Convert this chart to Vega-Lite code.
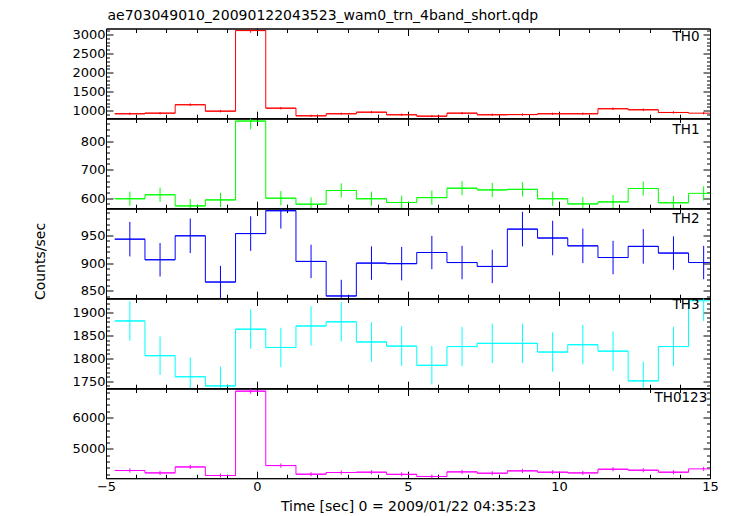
{
  "$schema": "https://vega.github.io/schema/vega-lite/v6.json",
  "padding": {"left": 32, "top": 8.5, "right": 5, "bottom": 0},
  "title": {"text": "ae703049010_20090122043523_wam0_trn_4band_short.qdp", "anchor": "start", "offset": 1.3, "fontSize": 14, "dx": 75},
  "config": {
    "view": {"stroke": "#000", "strokeWidth": 1},
    "title": {"font": "DejaVu Sans", "fontSize": 13.5, "fontWeight": "normal", "color": "#000"},
    "axis": {"grid": false, "domainColor": "#000", "domainWidth": 1, "tickColor": "#000", "tickWidth": 1, "format": "d",
      "labelFont": "DejaVu Sans", "labelFontSize": 13, "labelColor": "#000", "labelOverlap": false, "labelFlush": false,
      "titleFont": "DejaVu Sans", "titleFontSize": 14, "titleFontWeight": "normal", "titleColor": "#000"}
  },
  "datasets": {
    "lc": [
      {"b":"TH0","t":-4.21,"t0":-4.71,"t1":-3.71,"v":921,"e":30},
      {"b":"TH0","t":-3.21,"t0":-3.71,"t1":-2.71,"v":937,"e":31},
      {"b":"TH0","t":-2.21,"t0":-2.71,"t1":-1.71,"v":1158,"e":34},
      {"b":"TH0","t":-1.21,"t0":-1.71,"t1":-0.71,"v":990,"e":31},
      {"b":"TH0","t":-0.21,"t0":-0.71,"t1":0.29,"v":3104,"e":56},
      {"b":"TH0","t":0.79,"t0":0.29,"t1":1.29,"v":1068,"e":33},
      {"b":"TH0","t":1.79,"t0":1.29,"t1":2.29,"v":868,"e":29},
      {"b":"TH0","t":2.79,"t0":2.29,"t1":3.29,"v":921,"e":30},
      {"b":"TH0","t":3.79,"t0":3.29,"t1":4.29,"v":963,"e":31},
      {"b":"TH0","t":4.79,"t0":4.29,"t1":5.29,"v":895,"e":30},
      {"b":"TH0","t":5.79,"t0":5.29,"t1":6.29,"v":858,"e":29},
      {"b":"TH0","t":6.79,"t0":6.29,"t1":7.29,"v":937,"e":31},
      {"b":"TH0","t":7.79,"t0":7.29,"t1":8.29,"v":895,"e":30},
      {"b":"TH0","t":8.79,"t0":8.29,"t1":9.29,"v":900,"e":30},
      {"b":"TH0","t":9.79,"t0":9.29,"t1":10.29,"v":921,"e":30},
      {"b":"TH0","t":10.79,"t0":10.29,"t1":11.29,"v":921,"e":30},
      {"b":"TH0","t":11.79,"t0":11.29,"t1":12.29,"v":1053,"e":32},
      {"b":"TH0","t":12.79,"t0":12.29,"t1":13.29,"v":1026,"e":32},
      {"b":"TH0","t":13.79,"t0":13.29,"t1":14.29,"v":955,"e":31},
      {"b":"TH0","t":14.79,"t0":14.29,"t1":15.29,"v":937,"e":31},
      {"b":"TH1","t":-4.21,"t0":-4.71,"t1":-3.71,"v":598,"e":25},
      {"b":"TH1","t":-3.21,"t0":-3.71,"t1":-2.71,"v":612,"e":25},
      {"b":"TH1","t":-2.21,"t0":-2.71,"t1":-1.71,"v":573,"e":24},
      {"b":"TH1","t":-1.21,"t0":-1.71,"t1":-0.71,"v":594,"e":25},
      {"b":"TH1","t":-0.21,"t0":-0.71,"t1":0.29,"v":870,"e":29},
      {"b":"TH1","t":0.79,"t0":0.29,"t1":1.29,"v":600,"e":25},
      {"b":"TH1","t":1.79,"t0":1.29,"t1":2.29,"v":579,"e":24},
      {"b":"TH1","t":2.79,"t0":2.29,"t1":3.29,"v":627,"e":25},
      {"b":"TH1","t":3.79,"t0":3.29,"t1":4.29,"v":598,"e":25},
      {"b":"TH1","t":4.79,"t0":4.29,"t1":5.29,"v":585,"e":24},
      {"b":"TH1","t":5.79,"t0":5.29,"t1":6.29,"v":602,"e":25},
      {"b":"TH1","t":6.79,"t0":6.29,"t1":7.29,"v":635,"e":25},
      {"b":"TH1","t":7.79,"t0":7.29,"t1":8.29,"v":629,"e":25},
      {"b":"TH1","t":8.79,"t0":8.29,"t1":9.29,"v":631,"e":25},
      {"b":"TH1","t":9.79,"t0":9.29,"t1":10.29,"v":598,"e":25},
      {"b":"TH1","t":10.79,"t0":10.29,"t1":11.29,"v":580,"e":24},
      {"b":"TH1","t":11.79,"t0":11.29,"t1":12.29,"v":587,"e":24},
      {"b":"TH1","t":12.79,"t0":12.29,"t1":13.29,"v":634,"e":25},
      {"b":"TH1","t":13.79,"t0":13.29,"t1":14.29,"v":584,"e":24},
      {"b":"TH1","t":14.79,"t0":14.29,"t1":15.29,"v":617,"e":25},
      {"b":"TH2","t":-4.21,"t0":-4.71,"t1":-3.71,"v":943,"e":31},
      {"b":"TH2","t":-3.21,"t0":-3.71,"t1":-2.71,"v":906,"e":30},
      {"b":"TH2","t":-2.21,"t0":-2.71,"t1":-1.71,"v":949,"e":31},
      {"b":"TH2","t":-1.21,"t0":-1.71,"t1":-0.71,"v":866,"e":29},
      {"b":"TH2","t":-0.21,"t0":-0.71,"t1":0.29,"v":953,"e":31},
      {"b":"TH2","t":0.79,"t0":0.29,"t1":1.29,"v":994,"e":32},
      {"b":"TH2","t":1.79,"t0":1.29,"t1":2.29,"v":903,"e":30},
      {"b":"TH2","t":2.79,"t0":2.29,"t1":3.29,"v":841,"e":29},
      {"b":"TH2","t":3.79,"t0":3.29,"t1":4.29,"v":900,"e":30},
      {"b":"TH2","t":4.79,"t0":4.29,"t1":5.29,"v":899,"e":30},
      {"b":"TH2","t":5.79,"t0":5.29,"t1":6.29,"v":919,"e":30},
      {"b":"TH2","t":6.79,"t0":6.29,"t1":7.29,"v":901,"e":30},
      {"b":"TH2","t":7.79,"t0":7.29,"t1":8.29,"v":894,"e":30},
      {"b":"TH2","t":8.79,"t0":8.29,"t1":9.29,"v":961,"e":31},
      {"b":"TH2","t":9.79,"t0":9.29,"t1":10.29,"v":945,"e":31},
      {"b":"TH2","t":10.79,"t0":10.29,"t1":11.29,"v":931,"e":31},
      {"b":"TH2","t":11.79,"t0":11.29,"t1":12.29,"v":910,"e":30},
      {"b":"TH2","t":12.79,"t0":12.29,"t1":13.29,"v":930,"e":31},
      {"b":"TH2","t":13.79,"t0":13.29,"t1":14.29,"v":918,"e":30},
      {"b":"TH2","t":14.79,"t0":14.29,"t1":15.29,"v":901,"e":30},
      {"b":"TH3","t":-4.21,"t0":-4.71,"t1":-3.71,"v":1882,"e":43},
      {"b":"TH3","t":-3.21,"t0":-3.71,"t1":-2.71,"v":1806,"e":42},
      {"b":"TH3","t":-2.21,"t0":-2.71,"t1":-1.71,"v":1760,"e":42},
      {"b":"TH3","t":-1.21,"t0":-1.71,"t1":-0.71,"v":1740,"e":42},
      {"b":"TH3","t":-0.21,"t0":-0.71,"t1":0.29,"v":1864,"e":43},
      {"b":"TH3","t":0.79,"t0":0.29,"t1":1.29,"v":1824,"e":43},
      {"b":"TH3","t":1.79,"t0":1.29,"t1":2.29,"v":1871,"e":43},
      {"b":"TH3","t":2.79,"t0":2.29,"t1":3.29,"v":1880,"e":43},
      {"b":"TH3","t":3.79,"t0":3.29,"t1":4.29,"v":1836,"e":43},
      {"b":"TH3","t":4.79,"t0":4.29,"t1":5.29,"v":1827,"e":43},
      {"b":"TH3","t":5.79,"t0":5.29,"t1":6.29,"v":1785,"e":42},
      {"b":"TH3","t":6.79,"t0":6.29,"t1":7.29,"v":1826,"e":43},
      {"b":"TH3","t":7.79,"t0":7.29,"t1":8.29,"v":1833,"e":43},
      {"b":"TH3","t":8.79,"t0":8.29,"t1":9.29,"v":1833,"e":43},
      {"b":"TH3","t":9.79,"t0":9.29,"t1":10.29,"v":1814,"e":43},
      {"b":"TH3","t":10.79,"t0":10.29,"t1":11.29,"v":1830,"e":43},
      {"b":"TH3","t":11.79,"t0":11.29,"t1":12.29,"v":1816,"e":43},
      {"b":"TH3","t":12.79,"t0":12.29,"t1":13.29,"v":1751,"e":42},
      {"b":"TH3","t":13.79,"t0":13.29,"t1":14.29,"v":1826,"e":43},
      {"b":"TH3","t":14.79,"t0":14.29,"t1":15.29,"v":1926,"e":44},
      {"b":"TH0123","t":-4.21,"t0":-4.71,"t1":-3.71,"v":4318,"e":66},
      {"b":"TH0123","t":-3.21,"t0":-3.71,"t1":-2.71,"v":4243,"e":65},
      {"b":"TH0123","t":-2.21,"t0":-2.71,"t1":-1.71,"v":4432,"e":67},
      {"b":"TH0123","t":-1.21,"t0":-1.71,"t1":-0.71,"v":4160,"e":64},
      {"b":"TH0123","t":-0.21,"t0":-0.71,"t1":0.29,"v":6831,"e":83},
      {"b":"TH0123","t":0.79,"t0":0.29,"t1":1.29,"v":4475,"e":67},
      {"b":"TH0123","t":1.79,"t0":1.29,"t1":2.29,"v":4202,"e":65},
      {"b":"TH0123","t":2.79,"t0":2.29,"t1":3.29,"v":4255,"e":65},
      {"b":"TH0123","t":3.79,"t0":3.29,"t1":4.29,"v":4265,"e":65},
      {"b":"TH0123","t":4.79,"t0":4.29,"t1":5.29,"v":4197,"e":65},
      {"b":"TH0123","t":5.79,"t0":5.29,"t1":6.29,"v":4129,"e":64},
      {"b":"TH0123","t":6.79,"t0":6.29,"t1":7.29,"v":4275,"e":65},
      {"b":"TH0123","t":7.79,"t0":7.29,"t1":8.29,"v":4233,"e":65},
      {"b":"TH0123","t":8.79,"t0":8.29,"t1":9.29,"v":4307,"e":66},
      {"b":"TH0123","t":9.79,"t0":9.29,"t1":10.29,"v":4265,"e":65},
      {"b":"TH0123","t":10.79,"t0":10.29,"t1":11.29,"v":4243,"e":65},
      {"b":"TH0123","t":11.79,"t0":11.29,"t1":12.29,"v":4359,"e":66},
      {"b":"TH0123","t":12.79,"t0":12.29,"t1":13.29,"v":4328,"e":66},
      {"b":"TH0123","t":13.79,"t0":13.29,"t1":14.29,"v":4265,"e":65},
      {"b":"TH0123","t":14.79,"t0":14.29,"t1":15.29,"v":4370,"e":66}
    ]
  },
  "data": {"name": "lc"},
  "vconcat": [
    {
      "width": 604, "height": 89.7,
      "title": {"text": "TH0", "anchor": "end", "offset": -18.5, "dx": -11},
      "transform": [{"filter": "datum.b === 'TH0'"}],
      "layer": [
        {"mark": {"type": "rule", "color": "#ff0000", "clip": true},
         "encoding": {
           "x": {"field": "t0", "type": "quantitative", "scale": {"domain": [-5, 15], "nice": false, "zero": false},
                 "axis": {"orient": "bottom", "title": null, "labels": false, "values": [-5,-4,-3,-2,-1,0,1,2,3,4,5,6,7,8,9,10,11,12,13,14,15], "tickSize": {"condition": {"test": "datum.value % 5 === 0", "value": -7}, "value": -4}}},
           "x2": {"field": "t1"},
           "y": {"field": "v", "type": "quantitative", "scale": {"domain": [805, 3158], "nice": false, "zero": false},
                 "axis": {"orient": "left", "title": null, "values": [900,1000,1100,1200,1300,1400,1500,1600,1700,1800,1900,2000,2100,2200,2300,2400,2500,2600,2700,2800,2900,3000,3100], "labelExpr": "datum.value % 500 === 0 ? datum.label : ''", "labelPadding": 8, "tickSize": {"condition": {"test": "datum.value % 500 === 0", "value": -7}, "value": -3.5}}}
         }},
        {"mark": {"type": "line", "interpolate": "step-after", "color": "#ff0000", "strokeWidth": 1, "clip": true},
         "encoding": {
           "x": {"field": "t0", "type": "quantitative", "axis": {"orient": "top", "title": null, "labels": false, "values": [-5,-4,-3,-2,-1,0,1,2,3,4,5,6,7,8,9,10,11,12,13,14,15], "tickSize": {"condition": {"test": "datum.value % 5 === 0", "value": -7}, "value": -4}}},
           "y": {"field": "v", "type": "quantitative", "axis": {"orient": "right", "title": null, "labels": false, "values": [900,1000,1100,1200,1300,1400,1500,1600,1700,1800,1900,2000,2100,2200,2300,2400,2500,2600,2700,2800,2900,3000,3100], "tickSize": {"condition": {"test": "datum.value % 500 === 0", "value": -7}, "value": -3.5}}}
         }},
        {"mark": {"type": "errorbar", "color": "#ff0000", "clip": true},
         "encoding": {
           "x": {"field": "t", "type": "quantitative", "axis": null},
           "y": {"field": "v", "type": "quantitative", "axis": null},
           "yError": {"field": "e"}
         }}
      ]
    },
    {
      "width": 604, "height": 89.7,
      "title": {"text": "TH1", "anchor": "end", "offset": -18.5, "dx": -11},
      "transform": [{"filter": "datum.b === 'TH1'"}],
      "layer": [
        {"mark": {"type": "rule", "color": "#00ff00", "clip": true},
         "encoding": {
           "x": {"field": "t0", "type": "quantitative", "scale": {"domain": [-5, 15], "nice": false, "zero": false},
                 "axis": {"orient": "bottom", "title": null, "labels": false, "values": [-5,-4,-3,-2,-1,0,1,2,3,4,5,6,7,8,9,10,11,12,13,14,15], "tickSize": {"condition": {"test": "datum.value % 5 === 0", "value": -7}, "value": -4}}},
           "x2": {"field": "t1"},
           "y": {"field": "v", "type": "quantitative", "scale": {"domain": [565, 879], "nice": false, "zero": false},
                 "axis": {"orient": "left", "title": null, "values": [580,600,620,640,660,680,700,720,740,760,780,800,820,840,860], "labelExpr": "datum.value % 100 === 0 ? datum.label : ''", "labelPadding": 8, "tickSize": {"condition": {"test": "datum.value % 100 === 0", "value": -7}, "value": -3.5}}}
         }},
        {"mark": {"type": "line", "interpolate": "step-after", "color": "#00ff00", "strokeWidth": 1, "clip": true},
         "encoding": {
           "x": {"field": "t0", "type": "quantitative", "axis": {"orient": "top", "title": null, "labels": false, "values": [-5,-4,-3,-2,-1,0,1,2,3,4,5,6,7,8,9,10,11,12,13,14,15], "tickSize": {"condition": {"test": "datum.value % 5 === 0", "value": -7}, "value": -4}}},
           "y": {"field": "v", "type": "quantitative", "axis": {"orient": "right", "title": null, "labels": false, "values": [580,600,620,640,660,680,700,720,740,760,780,800,820,840,860], "tickSize": {"condition": {"test": "datum.value % 100 === 0", "value": -7}, "value": -3.5}}}
         }},
        {"mark": {"type": "errorbar", "color": "#00ff00", "clip": true},
         "encoding": {
           "x": {"field": "t", "type": "quantitative", "axis": null},
           "y": {"field": "v", "type": "quantitative", "axis": null},
           "yError": {"field": "e"}
         }}
      ]
    },
    {
      "width": 604, "height": 89.7,
      "title": {"text": "TH2", "anchor": "end", "offset": -18.5, "dx": -11},
      "transform": [{"filter": "datum.b === 'TH2'"}],
      "layer": [
        {"mark": {"type": "rule", "color": "#0000ff", "clip": true},
         "encoding": {
           "x": {"field": "t0", "type": "quantitative", "scale": {"domain": [-5, 15], "nice": false, "zero": false},
                 "axis": {"orient": "bottom", "title": null, "labels": false, "values": [-5,-4,-3,-2,-1,0,1,2,3,4,5,6,7,8,9,10,11,12,13,14,15], "tickSize": {"condition": {"test": "datum.value % 5 === 0", "value": -7}, "value": -4}}},
           "x2": {"field": "t1"},
           "y": {"field": "v", "type": "quantitative", "scale": {"domain": [837, 998], "nice": false, "zero": false},
                 "axis": {"orient": "left", "title": "Counts/sec", "titleX": -59, "titleY": 52.5, "values": [840,850,860,870,880,890,900,910,920,930,940,950,960,970,980,990], "labelExpr": "datum.value % 50 === 0 ? datum.label : ''", "labelPadding": 8, "tickSize": {"condition": {"test": "datum.value % 50 === 0", "value": -7}, "value": -3.5}}}
         }},
        {"mark": {"type": "line", "interpolate": "step-after", "color": "#0000ff", "strokeWidth": 1, "clip": true},
         "encoding": {
           "x": {"field": "t0", "type": "quantitative", "axis": {"orient": "top", "title": null, "labels": false, "values": [-5,-4,-3,-2,-1,0,1,2,3,4,5,6,7,8,9,10,11,12,13,14,15], "tickSize": {"condition": {"test": "datum.value % 5 === 0", "value": -7}, "value": -4}}},
           "y": {"field": "v", "type": "quantitative", "axis": {"orient": "right", "title": null, "labels": false, "values": [840,850,860,870,880,890,900,910,920,930,940,950,960,970,980,990], "tickSize": {"condition": {"test": "datum.value % 50 === 0", "value": -7}, "value": -3.5}}}
         }},
        {"mark": {"type": "errorbar", "color": "#0000ff", "clip": true},
         "encoding": {
           "x": {"field": "t", "type": "quantitative", "axis": null},
           "y": {"field": "v", "type": "quantitative", "axis": null},
           "yError": {"field": "e"}
         }}
      ]
    },
    {
      "width": 604, "height": 89.7,
      "title": {"text": "TH3", "anchor": "end", "offset": -18.5, "dx": -11},
      "transform": [{"filter": "datum.b === 'TH3'"}],
      "layer": [
        {"mark": {"type": "rule", "color": "#00ffff", "clip": true},
         "encoding": {
           "x": {"field": "t0", "type": "quantitative", "scale": {"domain": [-5, 15], "nice": false, "zero": false},
                 "axis": {"orient": "bottom", "title": null, "labels": false, "values": [-5,-4,-3,-2,-1,0,1,2,3,4,5,6,7,8,9,10,11,12,13,14,15], "tickSize": {"condition": {"test": "datum.value % 5 === 0", "value": -7}, "value": -4}}},
           "x2": {"field": "t1"},
           "y": {"field": "v", "type": "quantitative", "scale": {"domain": [1735, 1931], "nice": false, "zero": false},
                 "axis": {"orient": "left", "title": null, "values": [1740,1750,1760,1770,1780,1790,1800,1810,1820,1830,1840,1850,1860,1870,1880,1890,1900,1910,1920,1930], "labelExpr": "datum.value % 50 === 0 ? datum.label : ''", "labelPadding": 8, "tickSize": {"condition": {"test": "datum.value % 50 === 0", "value": -7}, "value": -3.5}}}
         }},
        {"mark": {"type": "line", "interpolate": "step-after", "color": "#00ffff", "strokeWidth": 1, "clip": true},
         "encoding": {
           "x": {"field": "t0", "type": "quantitative", "axis": {"orient": "top", "title": null, "labels": false, "values": [-5,-4,-3,-2,-1,0,1,2,3,4,5,6,7,8,9,10,11,12,13,14,15], "tickSize": {"condition": {"test": "datum.value % 5 === 0", "value": -7}, "value": -4}}},
           "y": {"field": "v", "type": "quantitative", "axis": {"orient": "right", "title": null, "labels": false, "values": [1740,1750,1760,1770,1780,1790,1800,1810,1820,1830,1840,1850,1860,1870,1880,1890,1900,1910,1920,1930], "tickSize": {"condition": {"test": "datum.value % 50 === 0", "value": -7}, "value": -3.5}}}
         }},
        {"mark": {"type": "errorbar", "color": "#00ffff", "clip": true},
         "encoding": {
           "x": {"field": "t", "type": "quantitative", "axis": null},
           "y": {"field": "v", "type": "quantitative", "axis": null},
           "yError": {"field": "e"}
         }}
      ]
    },
    {
      "width": 604, "height": 89.7,
      "title": {"text": "TH0123", "anchor": "end", "offset": -18.5, "dx": -11},
      "transform": [{"filter": "datum.b === 'TH0123'"}],
      "layer": [
        {"mark": {"type": "rule", "color": "#ff00ff", "clip": true},
         "encoding": {
           "x": {"field": "t0", "type": "quantitative", "scale": {"domain": [-5, 15], "nice": false, "zero": false},
                 "axis": {"orient": "bottom", "title": "Time [sec] 0 = 2009/01/22 04:35:23", "labelExpr": "datum.value % 5 === 0 ? datum.label : ''", "labelPadding": 9, "titlePadding": 3, "values": [-5,-4,-3,-2,-1,0,1,2,3,4,5,6,7,8,9,10,11,12,13,14,15], "tickSize": {"condition": {"test": "datum.value % 5 === 0", "value": -7}, "value": -4}}},
           "x2": {"field": "t1"},
           "y": {"field": "v", "type": "quantitative", "scale": {"domain": [4075, 6915], "nice": false, "zero": false},
                 "axis": {"orient": "left", "title": null, "values": [4200,4400,4600,4800,5000,5200,5400,5600,5800,6000,6200,6400,6600,6800], "labelExpr": "datum.value % 1000 === 0 ? datum.label : ''", "labelPadding": 8, "tickSize": {"condition": {"test": "datum.value % 1000 === 0", "value": -7}, "value": -3.5}}}
         }},
        {"mark": {"type": "line", "interpolate": "step-after", "color": "#ff00ff", "strokeWidth": 1, "clip": true},
         "encoding": {
           "x": {"field": "t0", "type": "quantitative", "axis": {"orient": "top", "title": null, "labels": false, "values": [-5,-4,-3,-2,-1,0,1,2,3,4,5,6,7,8,9,10,11,12,13,14,15], "tickSize": {"condition": {"test": "datum.value % 5 === 0", "value": -7}, "value": -4}}},
           "y": {"field": "v", "type": "quantitative", "axis": {"orient": "right", "title": null, "labels": false, "values": [4200,4400,4600,4800,5000,5200,5400,5600,5800,6000,6200,6400,6600,6800], "tickSize": {"condition": {"test": "datum.value % 1000 === 0", "value": -7}, "value": -3.5}}}
         }},
        {"mark": {"type": "errorbar", "color": "#ff00ff", "clip": true},
         "encoding": {
           "x": {"field": "t", "type": "quantitative", "axis": null},
           "y": {"field": "v", "type": "quantitative", "axis": null},
           "yError": {"field": "e"}
         }}
      ]
    }
  ],
  "spacing": 0,
  "bounds": "flush"
}
